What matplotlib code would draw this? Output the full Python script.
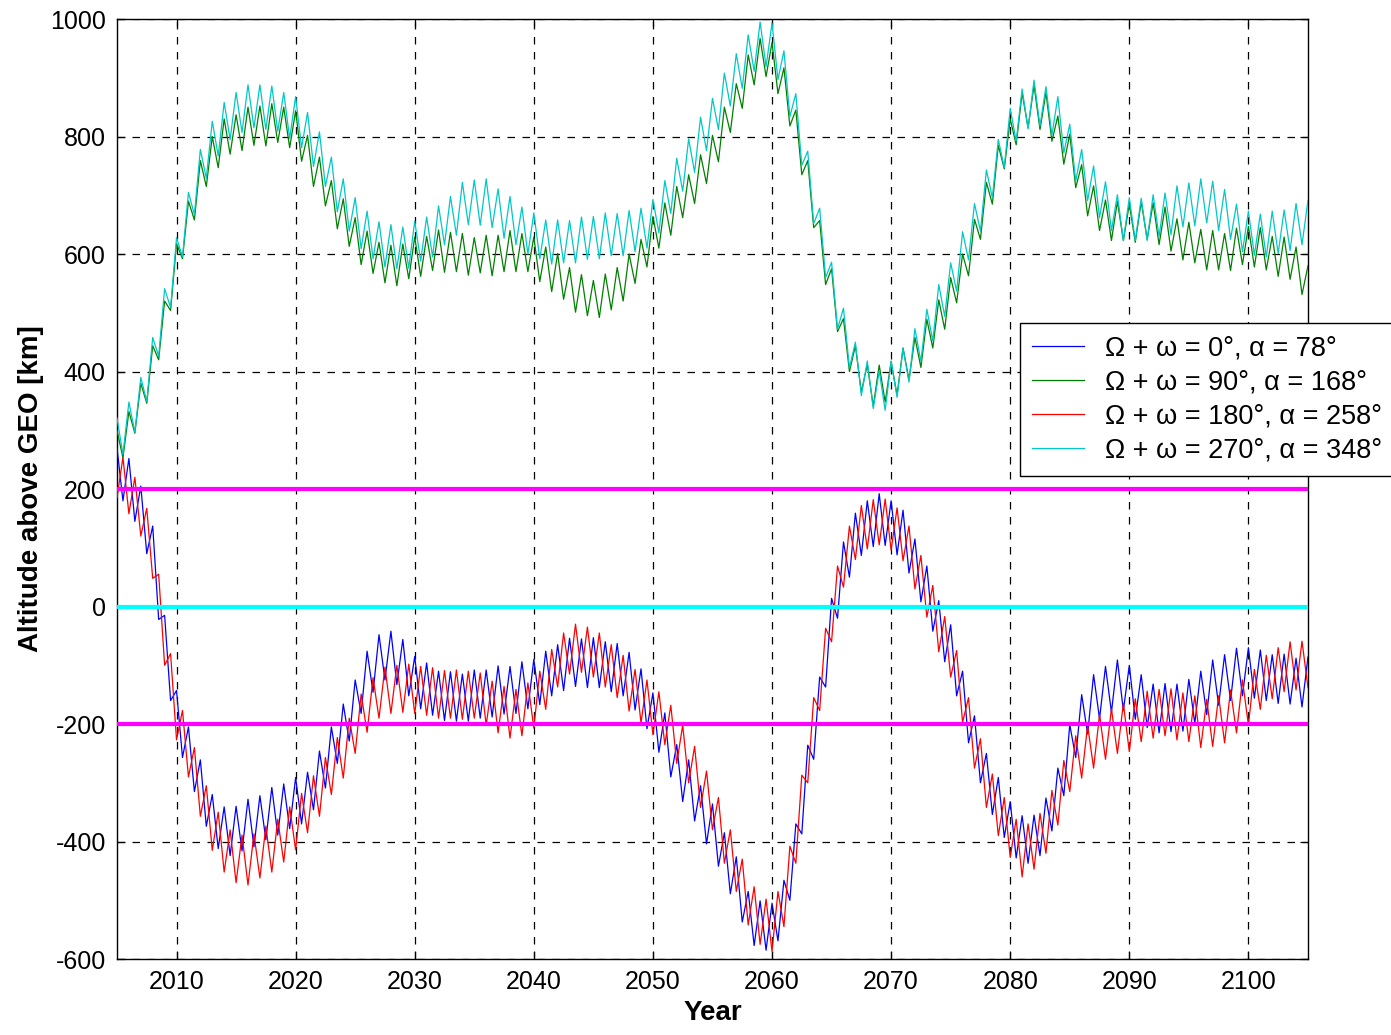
import numpy as np
import matplotlib
matplotlib.use("Agg")
import matplotlib.pyplot as plt

plt.rcParams['font.family'] = ['Liberation Sans', 'DejaVu Sans']
plt.rcParams['axes.unicode_minus'] = False

# ---- data (km above GEO) ----
years_int = list(range(2005, 2106))            # samples at whole years
years_half = [y + 0.5 for y in range(2005, 2105)]  # samples at half years

# Omega+omega = 0 deg (blue): peaks at whole years, troughs at half years
blue_peak = [270, 252, 205, 137, -15, -143, -205, -261, -320, -341, -340, -328, -322, -308, -302,
             -291, -282, -246, -205, -166, -125, -76, -48, -42, -56, -85, -96, -110, -111, -115,
             -108, -108, -101, -102, -94, -90, -76, -65, -54, -55, -53, -60, -63, -78, -106,
             -147, -181, -235, -261, -305, -336, -385, -426, -485, -501, -505, -466, -370, -236, -120,
             14, 110, 159, 180, 192, 180, 164, 115, 69, 10, -31, -110, -186, -250, -291,
             -332, -356, -355, -326, -275, -201, -150, -116, -102, -91, -100, -116, -132, -131, -132,
             -124, -110, -91, -82, -71, -70, -74, -82, -81, -88, -86]
blue_trough = [180, 145, 90, -22, -160, -257, -315, -374, -412, -424, -416, -409, -397, -389, -378,
               -370, -346, -309, -267, -229, -182, -146, -125, -133, -152, -174, -185, -194, -195, -195,
               -190, -188, -183, -182, -174, -167, -152, -143, -136, -138, -138, -145, -152, -176, -208,
               -248, -290, -332, -365, -404, -442, -489, -537, -577, -585, -569, -500, -387, -260, -137,
               -20, 50, 87, 102, 104, 88, 57, 8, -42, -94, -152, -232, -300, -354, -393,
               -428, -437, -424, -382, -322, -257, -217, -191, -180, -177, -192, -206, -215, -213, -212,
               -199, -184, -168, -160, -152, -156, -160, -165, -166, -171]

# Omega+omega = 90 deg (green)
green_peak = [300, 332, 380, 444, 520, 618, 690, 759, 800, 830, 837, 850, 852, 856, 850,
              844, 802, 765, 725, 694, 662, 639, 620, 615, 617, 629, 630, 641, 637, 635,
              628, 632, 632, 640, 635, 629, 612, 601, 577, 565, 555, 566, 577, 600, 625,
              664, 687, 715, 735, 769, 802, 850, 890, 939, 967, 960, 917, 845, 759, 657,
              575, 490, 444, 412, 411, 417, 440, 458, 489, 522, 560, 600, 659, 722, 785,
              830, 874, 887, 875, 835, 804, 752, 716, 692, 690, 685, 689, 687, 680, 660,
              654, 642, 640, 635, 644, 647, 645, 630, 629, 612, 580]
green_trough = [253, 295, 346, 420, 504, 592, 658, 715, 747, 770, 776, 785, 784, 790, 781,
                758, 715, 682, 643, 613, 582, 567, 551, 546, 558, 562, 572, 569, 570, 564,
                568, 563, 570, 570, 570, 553, 536, 523, 501, 495, 492, 505, 520, 550, 578,
                610, 632, 662, 686, 720, 757, 807, 848, 888, 902, 873, 818, 735, 645, 548,
                468, 400, 365, 341, 348, 360, 386, 407, 440, 472, 517, 563, 625, 685, 745,
                786, 815, 812, 792, 753, 713, 665, 640, 623, 623, 620, 625, 616, 605, 590,
                585, 573, 573, 572, 582, 578, 573, 562, 557, 531]

# Omega+omega = 180 deg (red): troughs at whole years, peaks at half years
red_trough = [185, 158, 120, 48, -100, -227, -290, -357, -415, -452, -470, -474, -462, -452, -435,
              -414, -385, -357, -320, -292, -250, -214, -190, -182, -180, -182, -185, -190, -190, -192,
              -190, -202, -215, -224, -220, -207, -175, -137, -115, -112, -120, -137, -155, -178, -198,
              -218, -235, -267, -300, -342, -380, -437, -485, -542, -575, -587, -545, -437, -300, -177,
              -60, 33, 80, 98, 105, 96, 78, 30, -18, -77, -120, -197, -275, -342, -390,
              -427, -460, -447, -420, -372, -315, -292, -275, -260, -250, -247, -230, -224, -220, -227,
              -230, -240, -238, -232, -215, -202, -175, -157, -145, -142, -138]
red_peak = [254, 220, 167, 55, -80, -177, -240, -305, -350, -380, -389, -387, -374, -362, -341,
            -318, -288, -257, -223, -190, -149, -121, -103, -100, -98, -102, -104, -109, -108, -110,
            -113, -127, -136, -141, -130, -110, -73, -45, -30, -35, -45, -65, -83, -107, -125,
            -145, -168, -202, -238, -280, -325, -380, -430, -477, -498, -485, -408, -287, -155, -37,
            69, 137, 172, 182, 183, 168, 137, 87, 36, -17, -75, -155, -225, -285, -325,
            -362, -370, -352, -313, -262, -220, -202, -184, -174, -165, -157, -144, -141, -140, -147,
            -152, -158, -152, -142, -125, -107, -83, -70, -60, -59]

# Omega+omega = 270 deg (cyan)
cyan_peak = [321, 348, 390, 458, 541, 628, 705, 778, 826, 858, 875, 888, 888, 886, 875,
             868, 841, 808, 765, 728, 696, 673, 655, 650, 646, 656, 663, 682, 698, 722,
             726, 728, 711, 698, 680, 670, 658, 658, 657, 663, 664, 670, 669, 674, 678,
             693, 725, 763, 796, 833, 865, 908, 941, 973, 995, 993, 946, 873, 775, 678,
             586, 508, 450, 418, 401, 418, 440, 473, 506, 548, 585, 638, 686, 743, 795,
             848, 881, 896, 885, 868, 821, 778, 750, 723, 701, 696, 695, 701, 704, 716,
             721, 728, 724, 710, 685, 673, 668, 673, 675, 686, 691]
cyan_trough = [259, 297, 349, 426, 509, 595, 667, 729, 767, 795, 807, 815, 812, 809, 797,
               781, 749, 715, 672, 639, 609, 592, 578, 575, 576, 588, 595, 616, 632, 650,
               649, 645, 627, 616, 600, 592, 583, 585, 585, 591, 592, 597, 597, 604, 610,
               636, 669, 707, 739, 776, 812, 852, 882, 911, 919, 897, 834, 751, 652, 560,
               472, 406, 359, 337, 334, 356, 382, 417, 452, 494, 537, 590, 639, 696, 747,
               792, 813, 818, 802, 772, 724, 691, 662, 640, 623, 623, 623, 630, 633, 646,
               648, 653, 640, 625, 604, 598, 595, 601, 606, 616]

legend_labels = ["Ω + ω = 0°, α = 78°", "Ω + ω = 90°, α = 168°",
                 "Ω + ω = 180°, α = 258°", "Ω + ω = 270°, α = 348°"]
limit_levels = [-200, 200]
x_ticks = list(range(2010, 2101, 10))
y_ticks = list(range(-600, 1001, 200))


def interleave(first, second):
    """first has one more element than second; alternate them."""
    out = []
    for i in range(len(second)):
        out.append(first[i])
        out.append(second[i])
    out.append(first[-1])
    return out


t = interleave(years_int, years_half)
blue = interleave(blue_peak, blue_trough)
green = interleave(green_peak, green_trough)
red = interleave(red_trough, red_peak)
cyan = interleave(cyan_peak, cyan_trough)

fig = plt.figure(figsize=(13.91, 10.35), dpi=100)
ax = fig.add_axes([0.0841, 0.0734, 0.8562, 0.9082])

lw = 0.9
l1, = ax.plot(t, blue, color='#0000ff', lw=lw, label=legend_labels[0], zorder=3)
l2, = ax.plot(t, green, color='#008000', lw=lw, label=legend_labels[1], zorder=3)
l3, = ax.plot(t, red, color='#ff0000', lw=lw, label=legend_labels[2], zorder=4)
l4, = ax.plot(t, cyan, color='#00c8c8', lw=lw, label=legend_labels[3], zorder=3)

for lev in limit_levels:
    ax.axhline(lev, color='#ff00ff', lw=3, zorder=5)
ax.axhline(0, color='#00ffff', lw=3, zorder=5)

ax.set_xlim(2005, 2105)
ax.set_ylim(-600, 1000)
ax.set_xticks(x_ticks)
ax.set_yticks(y_ticks)
ax.grid(True, color='black', linestyle=(0, (6, 6)), lw=0.9)
ax.tick_params(direction='in', length=6, width=0.9, labelsize=18, top=True, right=True, pad=8)
for s in ax.spines.values():
    s.set_linewidth(1.0)

ax.set_xlabel('Year', fontsize=20, fontweight='bold', labelpad=4)
ax.set_ylabel('Altitude above GEO [km]', fontsize=20, fontweight='bold', labelpad=4)

leg = ax.legend(handles=[l1, l2, l3, l4], loc='upper left',
                bbox_to_anchor=(1020 / 1391, 1 - 323 / 1035), bbox_transform=fig.transFigure,
                borderaxespad=0, fontsize=19.5, frameon=True, fancybox=False, framealpha=1,
                edgecolor='black', handlelength=1.9, handletextpad=0.8, labelspacing=0.3,
                borderpad=0.45)
leg.get_frame().set_linewidth(1.0)
leg.set_zorder(10)

fig.savefig('out.png', dpi=100)
